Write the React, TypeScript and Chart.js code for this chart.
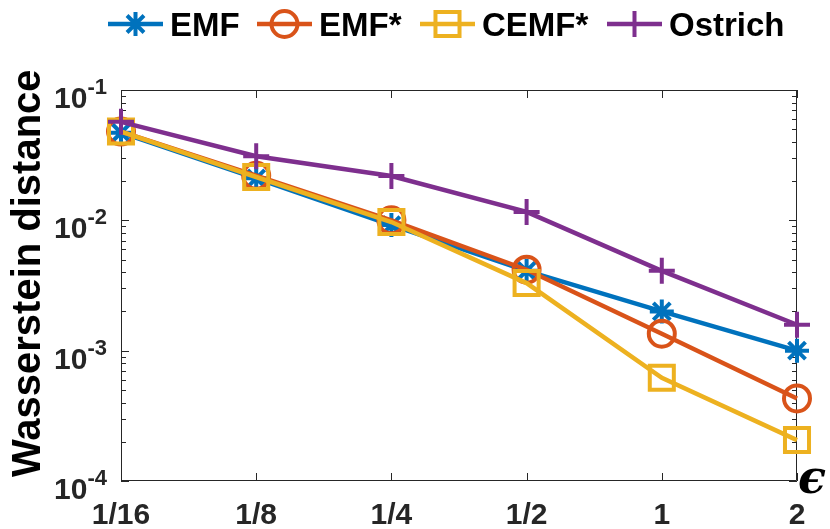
import React, { useEffect, useRef } from "react";
import { Chart, registerables } from "chart.js";

Chart.register(...registerables);

const epsLabels = ["1/16", "1/8", "1/4", "1/2", "1", "2"];
const emf = [0.047, 0.021, 0.0092, 0.0041, 0.002, 0.001];
const emfStar = [0.048, 0.022, 0.01, 0.00418, 0.00135, 0.00043];
const cemfStar = [0.048, 0.0215, 0.0097, 0.0033, 0.00062, 0.000206];
const ostrich = [0.057, 0.031, 0.0219, 0.0116, 0.0041, 0.00158];
const yExponents = [-1, -2, -3, -4];
const seriesNames = ["EMF", "EMF*", "CEMF*", "Ostrich"];

const BLUE = "#0072BD";
const ORANGE = "#D95319";
const YELLOW = "#EDB120";
const PURPLE = "#7E2F8E";
const AXIS = "#262626";
const FONT = '"Liberation Sans", Arial, sans-serif';
const LEGEND_STARTS = [108, 257, 420, 607];
const LEGEND_Y = 24;

function drawMarker(ctx: CanvasRenderingContext2D, style: string, r: number, cx: number, cy: number) {
  ctx.beginPath();
  if (style === "circle") {
    ctx.arc(cx, cy, r, 0, Math.PI * 2);
  } else if (style === "rect") {
    const h = r * Math.SQRT1_2;
    ctx.rect(cx - h, cy - h, 2 * h, 2 * h);
  } else if (style === "cross") {
    ctx.moveTo(cx - r, cy);
    ctx.lineTo(cx + r, cy);
    ctx.moveTo(cx, cy - r);
    ctx.lineTo(cx, cy + r);
  } else if (style === "star") {
    ctx.moveTo(cx - r, cy);
    ctx.lineTo(cx + r, cy);
    ctx.moveTo(cx, cy - r);
    ctx.lineTo(cx, cy + r);
    const d = r * Math.SQRT1_2;
    ctx.moveTo(cx - d, cy - d);
    ctx.lineTo(cx + d, cy + d);
    ctx.moveTo(cx - d, cy + d);
    ctx.lineTo(cx + d, cy - d);
  }
  ctx.stroke();
}

const boxPlugin = {
  id: "matlabBox",
  beforeDatasetsDraw(chart: any) {
    const { ctx, chartArea } = chart;
    const { left, right, top, bottom } = chartArea;
    const x = chart.scales.x;
    const y = chart.scales.y;
    ctx.save();
    ctx.strokeStyle = AXIS;
    ctx.lineWidth = 1;
    ctx.beginPath();
    ctx.rect(left + 0.5, top + 0.5, right - left - 1, bottom - top - 1);
    ctx.stroke();
    ctx.beginPath();
    for (let i = 0; i < epsLabels.length; i++) {
      const px = Math.round(x.getPixelForValue(i)) + 0.5;
      ctx.moveTo(px, bottom);
      ctx.lineTo(px, bottom - 8);
      ctx.moveTo(px, top);
      ctx.lineTo(px, top + 8);
    }
    for (let e = -4; e <= -1; e++) {
      for (let m = 1; m <= 9; m++) {
        const v = m * Math.pow(10, e);
        if (v > 0.1 + 1e-12) continue;
        const py = Math.round(y.getPixelForValue(v)) + 0.5;
        const len = m === 1 ? 8 : 5;
        ctx.moveTo(left, py);
        ctx.lineTo(left + len, py);
        ctx.moveTo(right, py);
        ctx.lineTo(right - len, py);
      }
    }
    ctx.stroke();
    ctx.restore();
  },
  afterDraw(chart: any) {
    const { ctx, chartArea } = chart;
    const { left, right, bottom } = chartArea;
    const x = chart.scales.x;
    const y = chart.scales.y;
    ctx.save();
    ctx.fillStyle = AXIS;
    ctx.font = `bold 30px ${FONT}`;
    ctx.textAlign = "center";
    ctx.textBaseline = "alphabetic";
    epsLabels.forEach((lab, i) => {
      ctx.fillText(lab, x.getPixelForValue(i), bottom + 43);
    });
    yExponents.forEach((e) => {
      const py = y.getPixelForValue(Math.pow(10, e));
      const sup = `-${Math.abs(e)}`;
      ctx.font = `bold 22px ${FONT}`;
      const supW = ctx.measureText(sup).width;
      ctx.textAlign = "right";
      ctx.fillText(sup, left - 14, py + 4);
      ctx.font = `bold 30px ${FONT}`;
      ctx.fillText("10", left - 14 - supW, py + 18);
    });
    ctx.save();
    ctx.translate(40, 477);
    ctx.rotate(-Math.PI / 2);
    ctx.font = `bold 40px ${FONT}`;
    ctx.fillStyle = "#000";
    ctx.textAlign = "left";
    ctx.fillText("Wasserstein distance", 0, 0);
    ctx.restore();
    ctx.font = `bold italic 46px "DejaVu Serif", serif`;
    ctx.fillStyle = "#000";
    ctx.textAlign = "left";
    ctx.fillText("\u03F5", right + 1, bottom + 12);
    // legend
    chart.data.datasets.forEach((ds: any, i: number) => {
      const x0 = LEGEND_STARTS[i];
      const x1 = x0 + 55;
      ctx.strokeStyle = ds.borderColor;
      ctx.lineWidth = ds.borderWidth;
      ctx.beginPath();
      ctx.moveTo(x0, LEGEND_Y);
      ctx.lineTo(x1, LEGEND_Y);
      ctx.stroke();
      ctx.lineWidth = ds.pointBorderWidth;
      drawMarker(ctx, ds.pointStyle, ds.pointRadius, (x0 + x1) / 2, LEGEND_Y);
      ctx.font = `bold 33px ${FONT}`;
      ctx.fillStyle = "#000";
      ctx.textAlign = "left";
      ctx.fillText(seriesNames[i], x1 + 7, LEGEND_Y + 12);
    });
    ctx.restore();
  },
};

export default function App() {
  const ref = useRef<HTMLCanvasElement>(null);
  useEffect(() => {
    document.body.style.margin = "0";
    if (!ref.current) return;
    const mk = (label: string, data: number[], color: string, style: string, r: number, order: number) => ({
      label,
      data,
      borderColor: color,
      backgroundColor: "transparent",
      pointBackgroundColor: "transparent",
      pointBorderColor: color,
      borderWidth: 4.5,
      pointBorderWidth: 4,
      pointStyle: style,
      pointRadius: r,
      pointHoverRadius: r,
      tension: 0,
      fill: false,
      order,
      clip: false as any,
    });
    const chart = new Chart(ref.current, {
      type: "line",
      data: {
        labels: epsLabels,
        datasets: [
          mk(seriesNames[0], emf, BLUE, "star", 12, 4),
          mk(seriesNames[1], emfStar, ORANGE, "circle", 13, 3),
          mk(seriesNames[2], cemfStar, YELLOW, "rect", 17, 2),
          mk(seriesNames[3], ostrich, PURPLE, "cross", 13, 1),
        ] as any,
      },
      options: {
        animation: false,
        responsive: false,
        devicePixelRatio: 1,
        layout: { padding: { left: 0, top: 90, right: 33, bottom: 0 } },
        plugins: { legend: { display: false }, tooltip: { enabled: false } },
        events: [],
        scales: {
          x: {
            type: "category",
            offset: false,
            grid: { display: false },
            border: { display: false },
            ticks: { display: false },
            afterFit: (s: any) => {
              s.height = 48;
            },
          },
          y: {
            type: "logarithmic",
            min: 1e-4,
            max: 1e-1,
            grid: { display: false },
            border: { display: false },
            ticks: { display: false },
            afterFit: (s: any) => {
              s.width = 121;
            },
          },
        },
      },
      plugins: [boxPlugin],
    });
    return () => chart.destroy();
  }, []);
  return <canvas ref={ref} width={830} height={529} style={{ display: "block" }} />;
}
